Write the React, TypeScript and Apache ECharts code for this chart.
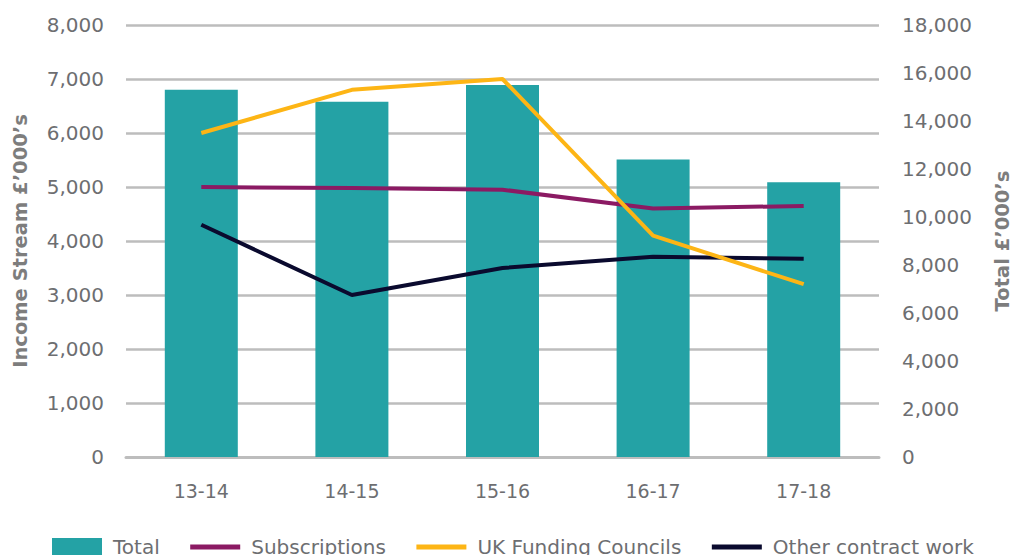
import React, { useEffect, useRef } from "react";
import * as echarts from "echarts";

const categories = ["13-14", "14-15", "15-16", "16-17", "17-18"];
const totalValues = [15300, 14800, 15500, 12400, 11450];
const subscriptions = [5000, 4980, 4950, 4600, 4650];
const ukFundingCouncils = [6000, 6800, 7000, 4100, 3200];
const otherContractWork = [4300, 3000, 3500, 3710, 3670];
const leftTicks = { min: 0, max: 8000, interval: 1000 };
const rightTicks = { min: 0, max: 18000, interval: 2000 };

const FONT = "DejaVu Sans";
const LABEL = "#6d6e71";
const NAME = "#7d7d7d";
const GRID = "#bdbdbd";

const COLORS = {
  total: "#24a2a5",
  subs: "#8b1a63",
  uk: "#fdb515",
  other: "#0a0a2e",
};

const fmt = (v: number) => v.toLocaleString("en-US");

const hiddenSymbol = { color: "rgba(0,0,0,0)", borderWidth: 0, opacity: 0 };

export default function App() {
  const ref = useRef<HTMLDivElement>(null);
  useEffect(() => {
    if (!ref.current) return;
    const chart = echarts.init(ref.current, undefined, { renderer: "svg" });
    chart.setOption({
      animation: false,
      textStyle: { fontFamily: FONT },
      grid: {
        left: 126,
        right: 135,
        top: 25,
        bottom: 98,
        containLabel: false,
        outerBoundsMode: "none",
      },
      legend: {
        left: 52,
        top: 537,
        padding: 0,
        itemWidth: 50,
        itemHeight: 18,
        itemGap: 28,
        data: [
          { name: "Total", icon: "rect" },
          { name: "Subscriptions", itemStyle: hiddenSymbol, lineStyle: { width: 5 } },
          { name: "UK Funding Councils", itemStyle: hiddenSymbol, lineStyle: { width: 5 } },
          { name: "Other contract work", itemStyle: hiddenSymbol, lineStyle: { width: 5 } },
        ],
        textStyle: { fontFamily: FONT, fontSize: 20, color: LABEL, lineHeight: 20, padding: [0, 0, 0, 6] },
      },
      xAxis: {
        type: "category",
        data: categories,
        boundaryGap: true,
        axisLine: { lineStyle: { color: GRID, width: 3 } },
        axisTick: { show: false },
        axisLabel: { fontFamily: FONT, fontSize: 19, color: LABEL, margin: 24 },
      },
      yAxis: [
        {
          type: "value",
          min: leftTicks.min,
          max: leftTicks.max,
          interval: leftTicks.interval,
          name: "Income Stream £’000’s",
          nameLocation: "middle",
          nameGap: 96,
          nameTextStyle: { fontFamily: FONT, fontSize: 19.5, fontWeight: "bold", color: NAME },
          axisLine: { show: false },
          axisTick: { show: false },
          axisLabel: { fontFamily: FONT, fontSize: 20, color: LABEL, margin: 22, formatter: fmt },
          splitLine: { show: true, lineStyle: { color: GRID, width: 2.5 } },
        },
        {
          type: "value",
          position: "right",
          min: rightTicks.min,
          max: rightTicks.max,
          interval: rightTicks.interval,
          name: "Total £’000’s",
          nameLocation: "middle",
          nameGap: 113,
          nameTextStyle: { fontFamily: FONT, fontSize: 19.5, fontWeight: "bold", color: NAME },
          axisLine: { show: false },
          axisTick: { show: false },
          axisLabel: { fontFamily: FONT, fontSize: 20, color: LABEL, margin: 23, formatter: fmt },
          splitLine: { show: false },
        },
      ],
      series: [
        {
          name: "Total",
          type: "bar",
          yAxisIndex: 1,
          data: totalValues,
          barWidth: 73,
          itemStyle: { color: COLORS.total },
        },
        {
          name: "Subscriptions",
          type: "line",
          yAxisIndex: 0,
          data: subscriptions,
          symbol: "none",
          lineStyle: { color: COLORS.subs, width: 4 },
          itemStyle: { color: COLORS.subs },
        },
        {
          name: "Other contract work",
          type: "line",
          yAxisIndex: 0,
          data: otherContractWork,
          symbol: "none",
          lineStyle: { color: COLORS.other, width: 4 },
          itemStyle: { color: COLORS.other },
        },
        {
          name: "UK Funding Councils",
          type: "line",
          yAxisIndex: 0,
          data: ukFundingCouncils,
          symbol: "none",
          lineStyle: { color: COLORS.uk, width: 4 },
          itemStyle: { color: COLORS.uk },
        },
      ],
    });
    return () => chart.dispose();
  }, []);
  return (
    <div
      ref={ref}
      style={{ position: "fixed", left: 0, top: 0, width: 1014, height: 555, background: "#fff" }}
    />
  );
}
